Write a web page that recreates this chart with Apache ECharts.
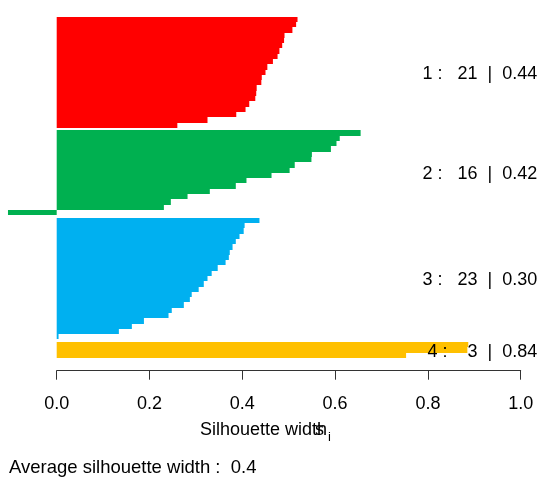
<!DOCTYPE html>
<html><head><meta charset="utf-8">
<script src="https://cdn.jsdelivr.net/npm/echarts@6/dist/echarts.min.js"></script>
<style>html,body{margin:0;padding:0;background:#fff}#c{width:542px;height:483px}</style>
</head><body><div id="c"></div>
<script>
// ---- data ----
const clusterIds = [1, 2, 3, 4];
const clusterSizes = [21, 16, 23, 3];
const clusterAvg = ['0.44', '0.42', '0.30', '0.84'];
const clusterColors = ['#FF0000', '#00B050', '#00B0F0', '#FFC000'];
const cluster1 = [0.519, 0.516, 0.508, 0.491, 0.490, 0.486, 0.480, 0.476, 0.466, 0.454, 0.450,
                  0.442, 0.441, 0.431, 0.430, 0.428, 0.415, 0.407, 0.387, 0.325, 0.260];
const cluster2 = [0.655, 0.610, 0.603, 0.591, 0.550, 0.549, 0.513, 0.502, 0.463, 0.409, 0.386,
                  0.330, 0.282, 0.246, 0.231, -0.105];
const cluster3 = [0.437, 0.405, 0.403, 0.394, 0.386, 0.379, 0.373, 0.371, 0.364, 0.347, 0.334,
                  0.325, 0.317, 0.306, 0.291, 0.287, 0.274, 0.248, 0.241, 0.188, 0.162, 0.134, 0.004];
const cluster4 = [0.887, 0.885, 0.753];
const xTickValues = [0, 0.2, 0.4, 0.6, 0.8, 1.0];
const avgWidth = '0.4';
const axisTitle = 'Silhouette width';
const FONT = '"Liberation Sans", Arial, Helvetica, sans-serif';

const clusters = [cluster1, cluster2, cluster3, cluster4];
const GAP = 0.5;

let pos = 0;
const series = [];
const labelData = [];
clusters.forEach((vals, k) => {
  if (k > 0) pos += GAP;
  const start = pos;
  const data = vals.map((v, i) => [v, start + i]);
  pos += vals.length;
  labelData.push([1, start + vals.length / 2, k]);
  series.push({
    type: 'custom',
    name: 'Cluster ' + clusterIds[k],
    clip: false,
    itemStyle: { color: clusterColors[k] },
    encode: { x: 0, y: 1 },
    data: data,
    renderItem: function (params, api) {
      const v = api.value(0), y0 = api.value(1);
      const a = api.coord([0, y0]), b = api.coord([v, y0 + 1]);
      const ya = Math.round(a[1]), yb = Math.round(b[1]);
      return {
        type: 'rect',
        shape: { x: Math.min(a[0], b[0]), y: ya, width: Math.abs(b[0] - a[0]), height: yb - ya },
        style: { fill: api.visual('color') }
      };
    }
  });
});

series.push({
  type: 'custom',
  name: 'labels',
  clip: false,
  silent: true,
  encode: { x: 0, y: 1 },
  data: labelData,
  renderItem: function (params, api) {
    const k = api.value(2);
    const p = api.coord([api.value(0), api.value(1)]);
    const size = clusterSizes[k];
    const txt = clusterIds[k] + ' :   ' + (size < 10 ? ' ' : '') + size + '  |  ' + clusterAvg[k];
    return {
      type: 'text',
      x: p[0] + 16.6, y: p[1] + 1.5,
      style: { text: txt, font: '18px ' + FONT, fill: '#000', align: 'right', verticalAlign: 'middle' }
    };
  }
});

const chart = echarts.init(document.getElementById('c'), null, { renderer: 'canvas' });
chart.setOption({
  animation: false,
  backgroundColor: '#fff',
  grid: { left: 56.7, right: 21.3, top: 16.7, height: 354, containLabel: false },
  xAxis: {
    type: 'value', position: 'bottom',
    min: xTickValues[0], max: xTickValues[xTickValues.length - 1], interval: 0.2,
    axisLine: { show: true, onZero: false, lineStyle: { color: '#333', width: 1 } },
    axisTick: { show: true, inside: false, length: 9, lineStyle: { color: '#333', width: 1 } },
    axisLabel: { fontSize: 18, fontFamily: FONT, color: '#000', margin: 24,
      formatter: v => Number(v).toFixed(1) },
    splitLine: { show: false }
  },
  yAxis: { type: 'value', inverse: true, min: 0, max: 66.9, show: false },
  graphic: [
    { type: 'text', x: 200, y: 430.5, style: { text: axisTitle, font: '18px ' + FONT, fill: '#000', align: 'left', verticalAlign: 'middle' } },
    { type: 'text', x: 315, y: 430.5, style: { text: 's', font: '18px ' + FONT, fill: '#000', align: 'left', verticalAlign: 'middle' } },
    { type: 'text', x: 328, y: 437, style: { text: 'i', font: '13px ' + FONT, fill: '#000', align: 'left', verticalAlign: 'middle' } },
    { type: 'text', x: 9, y: 467.7, style: { text: 'Average silhouette width :  ' + avgWidth, font: '18.5px ' + FONT, fill: '#000', align: 'left', verticalAlign: 'middle' } }
  ],
  series: series
});
</script></body></html>
